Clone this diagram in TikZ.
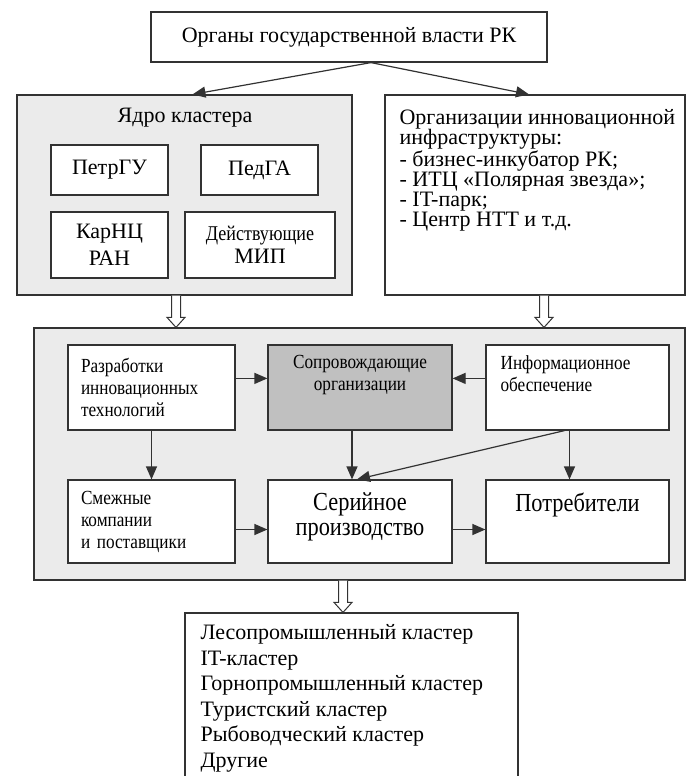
\documentclass[tikz,border=0pt]{standalone}
\usepackage{fontspec}
\setmainfont{Liberation Serif}
\newfontfamily\narrowfont[FakeStretch=0.86]{Liberation Serif}
\usepackage{tikz}
\usetikzlibrary{
    positioning,
    arrows.meta,
    calc
}
\definecolor{panelGray}{RGB}{235, 235, 235}
\definecolor{keyGray}{RGB}{192, 192, 192}
\definecolor{lineGray}{RGB}{50, 50, 50}

% hollow (wide) arrow from #1 down to #2
\newcommand{\wideArrow}[2]{%
    \draw[lineGray, line width=1pt, fill=white]
        ($(#1)+(-4.5,0)$) -- ($(#2)+(-4.5,-10)$) -- ($(#2)+(-9,-10)$) -- (#2)
        -- ($(#2)+(9,-10)$) -- ($(#2)+(4.5,-10)$) -- ($(#1)+(4.5,0)$);
}

\begin{document}
\begin{tikzpicture}[x=1pt, y=-1pt, >={Triangle[length=13pt, width=11pt]},
    box/.style={draw=lineGray, line width=1.2pt, fill=white, inner sep=0pt},
    panel/.style={box, fill=panelGray},
    link/.style={->, lineGray, line width=1.2pt},
    big/.style={font=\fontsize{22}{26}\selectfont},
    small/.style={font=\narrowfont\fontsize{20}{22}\selectfont},
    large/.style={font=\narrowfont\fontsize{26}{25}\selectfont}]
    \useasboundingbox (0,0) rectangle (686,776);
    \clip (0,0) rectangle (686,776);

    % Top level
    \node[box, big, minimum width=396pt, minimum height=50pt] (gov) at (349,37)
        {Органы государственной власти РК};

    % Cluster core
    \node[panel, minimum width=335pt, minimum height=200pt] (core) at (184.5,195) {};
    \node[big, inner sep=0pt] (coretitle) at (185,118) {Ядро кластера};
    \node[box, big, minimum width=117pt, minimum height=50pt] (petrgu) at (109.5,170) {ПетрГУ};
    \node[box, big, minimum width=117pt, minimum height=50pt] (pedga) at (259.5,170) {ПедГА};
    \node[box, font=\fontsize{22}{27}\selectfont, align=center,
          minimum width=117pt, minimum height=66pt] (karnc) at (109.5,245) {КарНЦ\\РАН};
    \node[box, font=\fontsize{22}{23}\selectfont, align=center,
          minimum width=150pt, minimum height=66pt] (mip) at (260,245)
        {{\narrowfont\fontsize{21}{23}\selectfont Действующие}\\МИП};

    % Innovation infrastructure
    \node[box, minimum width=300pt, minimum height=200pt] (infra) at (535,195) {};
    \node[font=\fontsize{22}{20}\selectfont, align=left, inner sep=0pt, anchor=north west]
        (infratxt) at ($(infra.north west)+(15,15)$)
        {Организации инновационной\\инфраструктуры:\\- бизнес-инкубатор РК;\\
         - ИТЦ «Полярная звезда»;\\- IT-парк;\\- Центр НТТ и т.д.};

    % Cluster body
    \node[panel, minimum width=651pt, minimum height=252pt] (cluster) at (359.5,454) {};
    \node[box, small, text width=141pt, align=left,
          minimum width=167pt, minimum height=85pt] (dev) at (151.5,387.5)
        {Разработки\\инновационных\\технологий};
    \node[box, fill=keyGray, minimum width=184pt, minimum height=85pt] (support) at (360,387.5) {};
    \node[small, align=center, inner sep=0pt, anchor=north]
        (supporttxt) at ($(support.north)+(0,11)$) {Сопровождающие\\организации};
    \node[box, minimum width=183pt, minimum height=85pt] (info) at (577.5,387.5) {};
    \node[small, align=left, inner sep=0pt, anchor=north west]
        (infotxt) at ($(info.north west)+(15,11)$) {Информационное\\обеспечение};

    \node[box, small, text width=141pt, align=left,
          minimum width=167pt, minimum height=83pt] (suppliers) at (151.5,521.5)
        {Смежные\\компании\\и поставщики};
    \node[box, minimum width=184pt, minimum height=83pt] (serial) at (360,521.5) {};
    \node[large, align=center, inner sep=0pt, anchor=north]
        (serialtxt) at ($(serial.north)+(0,13)$) {Серийное\\производство};
    \node[box, minimum width=183pt, minimum height=83pt] (consumers) at (577.5,521.5) {};
    \node[large, inner sep=0pt, anchor=north]
        (consumerstxt) at ($(consumers.north)+(0,13)$) {Потребители};

    % Resulting clusters
    \node[box, minimum width=333pt, minimum height=187pt] (result) at (351.5,706.5) {};
    \node[font=\fontsize{22}{25.5}\selectfont, align=left, inner sep=0pt, anchor=north west]
        (resulttxt) at ($(result.north west)+(16,12)$)
        {Лесопромышленный кластер\\IT-кластер\\Горнопромышленный кластер\\
         Туристский кластер\\Рыбоводческий кластер\\Другие};

    % Links
    \draw[link] ([xshift=22pt]gov.south) -- ([xshift=8pt]core.north);
    \draw[link] ([xshift=22pt]gov.south) -- ([xshift=-6pt]infra.north);

    \coordinate (coreout) at ([xshift=-8.5pt]core.south);
    \coordinate (infraout) at ([xshift=9pt]infra.south);
    \coordinate (clusterout) at ([xshift=-16.5pt]cluster.south);
    \wideArrow{coreout}{coreout |- cluster.north}
    \wideArrow{infraout}{infraout |- cluster.north}
    \wideArrow{clusterout}{clusterout |- result.north}

    \draw[link] ([yshift=-34pt]dev.north east) -- ([yshift=-34pt]support.north west);
    \draw[link] ([yshift=-34pt]info.north west) -- ([yshift=-34pt]support.north east);
    \draw[link] (dev.south) -- (suppliers.north);
    \draw[link] ([xshift=-8pt]support.south) -- ([xshift=-8pt]serial.north);
    \draw[link] ([xshift=-8pt]info.south) -- ([xshift=-8pt]consumers.north);
    \draw[link] ([xshift=-13pt]info.south) -- ([xshift=-3pt]serial.north);
    \draw[link] ([yshift=-8pt]suppliers.east) -- ([yshift=-8pt]serial.west);
    \draw[link] ([yshift=-8pt]serial.east) -- ([yshift=-8pt]consumers.west);
\end{tikzpicture}
\end{document}
